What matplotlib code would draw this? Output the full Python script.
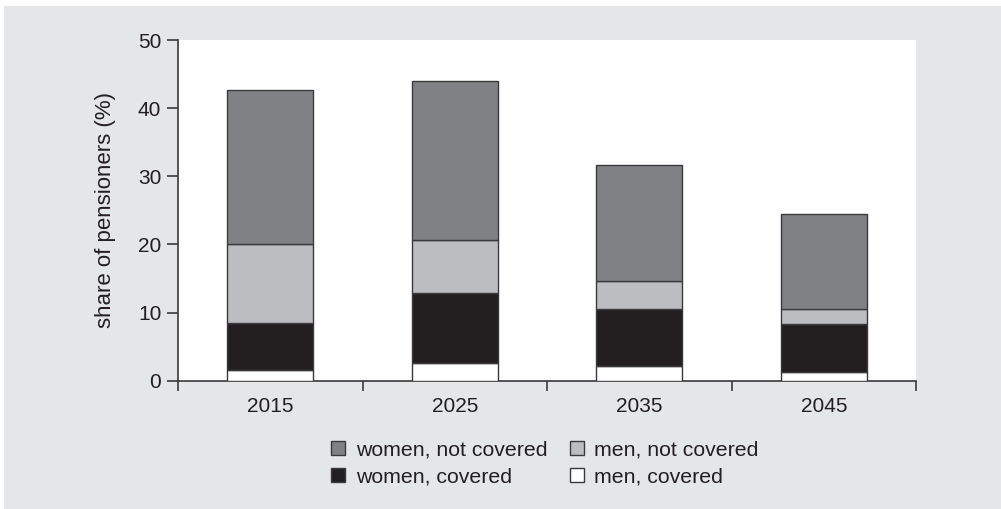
import numpy as np
import matplotlib
matplotlib.use('Agg')
import matplotlib.pyplot as plt
from matplotlib.patches import Rectangle, Patch

plt.rcParams['font.family'] = ['Liberation Sans', 'DejaVu Sans']

# Data
years = ['2015', '2025', '2035', '2045']
men_covered = [1.55, 2.55, 2.15, 1.3]
women_covered = [6.85, 10.25, 8.35, 7.0]
men_not_covered = [11.6, 7.85, 4.15, 2.2]
women_not_covered = [22.6, 23.35, 17.0, 13.9]

series = [
    ('men, covered', men_covered, '#ffffff'),
    ('women, covered', women_covered, '#231f20'),
    ('men, not covered', men_not_covered, '#bcbdc0'),
    ('women, not covered', women_not_covered, '#808184'),
]

bg = '#e5e6e8'
edge = '#3a3a3c'
text_col = '#231f20'

fig = plt.figure(figsize=(10.01, 5.09), dpi=100, facecolor='white')
# grey panel with a thin white margin on top and left
fig.patches.append(Rectangle((4 / 1001, 0), 1, 1 - 6 / 509, transform=fig.transFigure,
                             facecolor=bg, edgecolor='none', zorder=-10))

ax = fig.add_axes([178 / 1001, 1 - 380.7 / 509, (916 - 178) / 1001, (380.7 - 40) / 509])
ax.set_facecolor('white')

x = np.arange(len(years))
bottom = np.zeros(len(years))
for name, vals, col in series:
    ax.bar(x, vals, width=0.466, bottom=bottom, color=col, edgecolor=edge,
           linewidth=1.0, zorder=3)
    bottom += np.array(vals)

ax.set_xlim(-0.5, 3.5)
ax.set_ylim(0, 50)

for s in ['top', 'right']:
    ax.spines[s].set_visible(False)
for s in ['left', 'bottom']:
    ax.spines[s].set_color(edge)
    ax.spines[s].set_linewidth(1.2)

ax.set_yticks([0, 10, 20, 30, 40, 50])
ax.tick_params(axis='y', direction='out', length=8, width=1.2, color=edge,
               labelsize=15, labelcolor=text_col, pad=4)

# boundary ticks as major, year labels as minor at bar centers
ax.set_xticks(np.arange(-0.5, 4, 1.0))
ax.set_xticklabels([])
ax.set_xticks(x, minor=True)
ax.set_xticklabels(years, minor=True)
ax.tick_params(axis='x', which='major', direction='out', length=7, width=1.2, color=edge)
ax.tick_params(axis='x', which='minor', length=0, labelsize=15, labelcolor=text_col, pad=12)

ax.set_ylabel('share of pensioners (%)', fontsize=16, color=text_col, labelpad=16)

order = ['women, not covered', 'women, covered', 'men, not covered', 'men, covered']
colors = {n: c for n, _, c in series}
leg_handles = [Patch(facecolor=colors[n], edgecolor=edge, linewidth=1.0) for n in order]
fig.legend(leg_handles, order, ncol=2, loc='center', bbox_to_anchor=(545 / 1001, 1 - 463.5 / 509),
           frameon=False, fontsize=15.3, handlelength=0.65, handleheight=0.65,
           handletextpad=0.5, columnspacing=1.05, labelspacing=0.38, labelcolor=text_col)

fig.savefig('out.png', dpi=100, facecolor=fig.get_facecolor())
